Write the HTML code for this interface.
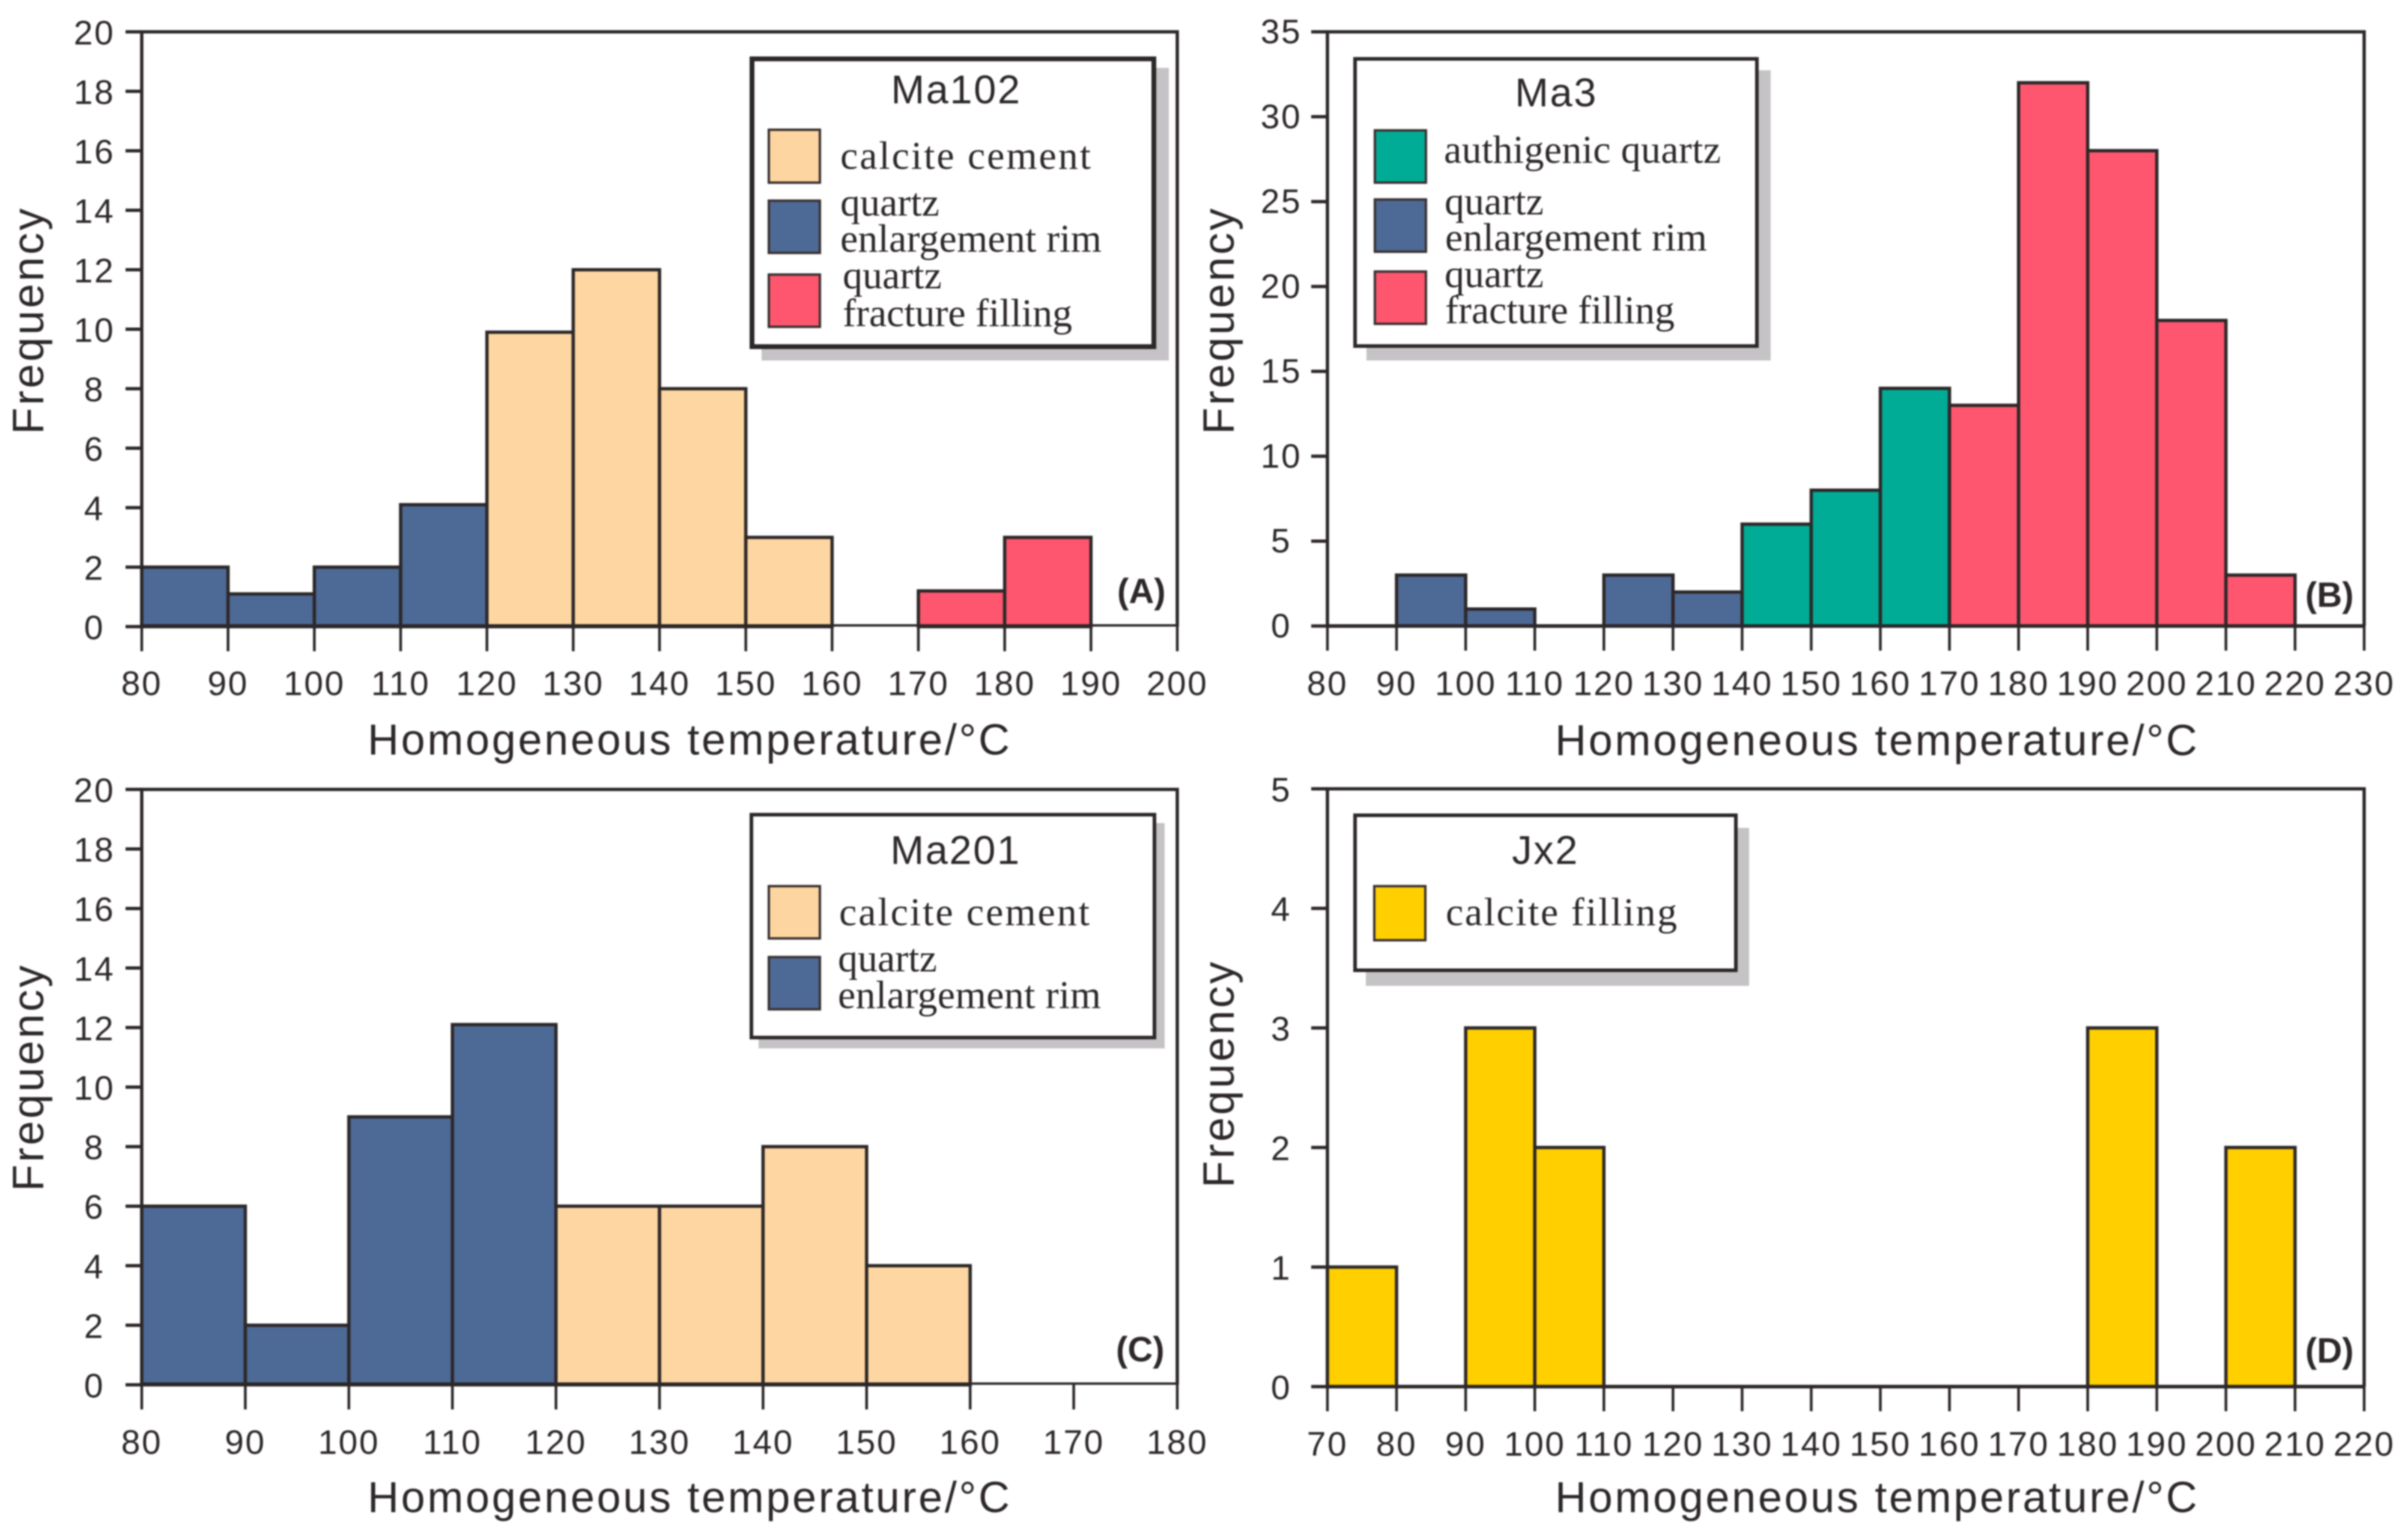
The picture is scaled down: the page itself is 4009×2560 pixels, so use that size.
<!DOCTYPE html>
<html lang="en">
<head>
<meta charset="utf-8">
<title>Homogeneous temperature histograms</title>
<style>
html,body{margin:0;padding:0;background:#fff;width:4009px;height:2560px;overflow:hidden}
svg{display:block;filter:blur(1.4px)}
.sans{font-family:"Liberation Sans",Arial,sans-serif;fill:#2c2728}
.tick-text{letter-spacing:2.5px}
.serif{font-family:"Liberation Serif","Times New Roman",serif;fill:#2c2728;font-size:66px}
.title{font-family:"Liberation Sans",Arial,sans-serif;fill:#2c2728;font-size:67px;text-anchor:middle;letter-spacing:2.5px}
.shadow{fill:#c5c3c5}
.box{fill:#fff;stroke:#2c2728}
.sw{stroke:#3a3030;stroke-width:4}
</style>
</head>
<body>
<svg id="figure" width="4009" height="2560" viewBox="0 0 4009 2560" xmlns="http://www.w3.org/2000/svg">
  <rect width="4009" height="2560" fill="#fff"/>
  <g id="panels"></g>

  <g>
    <rect class="shadow" x="1268" y="113" width="678" height="487"/>
    <rect class="box" x="1252" y="98" width="669" height="479" stroke-width="8"/>
    <text class="title" x="1592" y="172">Ma102</text>
    <rect class="sw" x="1280" y="216" width="85" height="88" fill="#fdd5a0"/>
    <text class="serif" x="1399" y="281" textLength="417">calcite cement</text>
    <rect class="sw" x="1280" y="334" width="85" height="87" fill="#4d6995"/>
    <text class="serif" x="1399" y="359">quartz</text>
    <text class="serif" x="1399" y="419" textLength="435">enlargement rim</text>
    <rect class="sw" x="1280" y="457" width="85" height="87" fill="#fe566f"/>
    <text class="serif" x="1403" y="480">quartz</text>
    <text class="serif" x="1403" y="543" textLength="382">fracture filling</text>
  </g>

  <g>
    <rect class="shadow" x="2275" y="117" width="673" height="483"/>
    <rect class="box" x="2256" y="98" width="669" height="478" stroke-width="6"/>
    <text class="title" x="2591" y="177">Ma3</text>
    <rect class="sw" x="2289" y="217" width="85" height="87" fill="#00ac96"/>
    <text class="serif" x="2404" y="271" textLength="461">authigenic quartz</text>
    <rect class="sw" x="2289" y="332" width="85" height="87" fill="#4d6995"/>
    <text class="serif" x="2405" y="357">quartz</text>
    <text class="serif" x="2406" y="417" textLength="436">enlargement rim</text>
    <rect class="sw" x="2289" y="452" width="85" height="87" fill="#fe566f"/>
    <text class="serif" x="2405" y="478">quartz</text>
    <text class="serif" x="2406" y="538" textLength="382">fracture filling</text>
  </g>

  <g>
    <rect class="shadow" x="1263" y="1370" width="676" height="375"/>
    <rect class="box" x="1251" y="1356" width="671" height="371" stroke-width="6"/>
    <text class="title" x="1591" y="1438">Ma201</text>
    <rect class="sw" x="1280" y="1475" width="85" height="87" fill="#fdd5a0"/>
    <text class="serif" x="1397" y="1540" textLength="417">calcite cement</text>
    <rect class="sw" x="1280" y="1593" width="85" height="87" fill="#4d6995"/>
    <text class="serif" x="1395" y="1617">quartz</text>
    <text class="serif" x="1395" y="1678" textLength="438">enlargement rim</text>
  </g>

  <g>
    <rect class="shadow" x="2274" y="1378" width="638" height="263"/>
    <rect class="box" x="2256" y="1357" width="634" height="258" stroke-width="6"/>
    <text class="title" x="2573" y="1438">Jx2</text>
    <rect class="sw" x="2288" y="1475" width="85" height="90" fill="#ffcf00"/>
    <text class="serif" x="2407" y="1540" textLength="385">calcite filling</text>
  </g>
</svg>

<script>
// Panel A (Ma102)
const aBins = [80, 90, 100, 110, 120, 130, 140, 150, 170, 180];
const aValues = [2, 1.1, 2, 4.1, 9.9, 12, 8, 3, 1.2, 3];
const aKinds = ['rim', 'rim', 'rim', 'rim', 'calcite', 'calcite', 'calcite', 'calcite', 'fracture', 'fracture'];
const aXTicks = [80, 90, 100, 110, 120, 130, 140, 150, 160, 170, 180, 190, 200];
const aYTicks = [0, 2, 4, 6, 8, 10, 12, 14, 16, 18, 20];

// Panel B (Ma3)
const bBins = [90, 100, 120, 130, 140, 150, 160, 170, 180, 190, 200, 210];
const bValues = [3, 1, 3, 2, 6, 8, 14, 13, 32, 28, 18, 3];
const bKinds = ['rim', 'rim', 'rim', 'rim', 'authigenic', 'authigenic', 'authigenic', 'fracture', 'fracture', 'fracture', 'fracture', 'fracture'];
const bXTicks = [80, 90, 100, 110, 120, 130, 140, 150, 160, 170, 180, 190, 200, 210, 220, 230];
const bYTicks = [0, 5, 10, 15, 20, 25, 30, 35];

// Panel C (Ma201)
const cBins = [80, 90, 100, 110, 120, 130, 140, 150];
const cValues = [6, 2, 9, 12.1, 6, 6, 8, 4];
const cKinds = ['rim', 'rim', 'rim', 'rim', 'calcite', 'calcite', 'calcite', 'calcite'];
const cXTicks = [80, 90, 100, 110, 120, 130, 140, 150, 160, 170, 180];
const cYTicks = [0, 2, 4, 6, 8, 10, 12, 14, 16, 18, 20];

// Panel D (Jx2)
const dBins = [70, 90, 100, 180, 200];
const dValues = [1, 3, 2, 3, 2];
const dKinds = ['filling', 'filling', 'filling', 'filling', 'filling'];
const dXTicks = [70, 80, 90, 100, 110, 120, 130, 140, 150, 160, 170, 180, 190, 200, 210, 220];
const dYTicks = [0, 1, 2, 3, 4, 5];

const binWidth = 10;
const kindColors = {rim: '#4d6995', calcite: '#fed6a1', fracture: '#fe566f', authigenic: '#00ac96', filling: '#ffcf00'};
const LINE = '#2c2728';
const NS = 'http://www.w3.org/2000/svg';
const root = document.getElementById('panels');

function shape(parent, tag, attrs) {
  const el = document.createElementNS(NS, tag);
  for (const k in attrs) el.setAttribute(k, attrs[k]);
  parent.appendChild(el);
  return el;
}

function drawPanel(p) {
  const g = shape(root, 'g', {});
  
  
  const xMin = p.xTicks[0], xMax = p.xTicks[p.xTicks.length - 1];
  const yMin = p.yTicks[0], yMax = p.yTicks[p.yTicks.length - 1];
  const xScale = v => p.left + (v - xMin) / (xMax - xMin) * (p.right - p.left);
  const yScale = v => p.bottom - (v - yMin) / (yMax - yMin) * (p.bottom - p.top);

  // frame
  const frame = shape(g, 'path', {
    d: 'M' + p.left + ' ' + p.bottom + 'V' + p.top + 'H' + p.right + 'V' + p.bottom,
    fill: 'none', stroke: LINE, 'stroke-width': 5.5
  });
  
  

  // bars
  p.bins.forEach((start, i) => {
    const x0 = xScale(start), x1 = xScale(start + binWidth), y = yScale(p.values[i]);
    const bar = shape(g, 'rect', {
      x: x0, y: y, width: x1 - x0, height: yScale(0) - y,
      fill: kindColors[p.kinds[i]], stroke: LINE, 'stroke-width': 5.5
    });
    
    
  });

  // baseline
  const base = shape(g, 'line', {x1: p.left, x2: p.right, y1: yScale(0) - p.baseLift, y2: yScale(0) - p.baseLift, stroke: LINE, 'stroke-width': p.baseWidth});
  
  

  // x ticks and labels
  p.xTicks.forEach(t => {
    const x = xScale(t);
    const tick = shape(g, 'line', {x1: x, x2: x, y1: yScale(0), y2: yScale(0) + 41, stroke: LINE, 'stroke-width': 4.5});
    
    
    const label = shape(g, 'text', {x: x, y: p.xLabelY, class: 'sans tick-text', 'font-size': 57, 'text-anchor': 'middle'});
    label.textContent = t;
    
    
  });

  // y ticks and labels
  p.yTicks.forEach(t => {
    const y = yScale(t);
    const tick = shape(g, 'line', {x1: p.left - 27, x2: p.left, y1: y, y2: y, stroke: LINE, 'stroke-width': 5.5});
    
    
    const label = shape(g, 'text', {x: p.yLabelX, y: y + p.yLabelDy, class: 'sans tick-text', 'font-size': 57, 'text-anchor': 'middle'});
    label.textContent = t;
    
    
  });

  // axis titles
  const xt = shape(g, 'text', {x: p.xTitleX, y: p.xTitleY, class: 'sans', 'font-size': 72, textLength: 1069, lengthAdjust: 'spacing'});
  xt.textContent = 'Homogeneous temperature/\u00B0C';
  
  

  const yt = shape(g, 'text', {
    transform: 'translate(' + p.yTitleX + ',' + p.yTitleY + ') rotate(-90)',
    class: 'sans', 'font-size': 73, textLength: 376, lengthAdjust: 'spacing'
  });
  yt.textContent = 'Frequency';
  
  

  // panel letter
  const tag = shape(g, 'text', {x: p.tagX, y: p.tagY, class: 'sans', 'font-size': 58, 'font-weight': 'bold'});
  tag.textContent = p.tag;
  
  
}

drawPanel({name: 'panel-a', bins: aBins, values: aValues, kinds: aKinds, xTicks: aXTicks, yTicks: aYTicks,
  left: 236, right: 1960, top: 53, bottom: 1043, xLabelY: 1157, yLabelX: 157, yLabelDy: 21, baseWidth: 4, baseLift: 2,
  xTitleX: 612, xTitleY: 1256, yTitleX: 72, yTitleY: 723, tag: '(A)', tagX: 1860, tagY: 1004});
drawPanel({name: 'panel-b', bins: bBins, values: bValues, kinds: bKinds, xTicks: bXTicks, yTicks: bYTicks,
  left: 2210, right: 3936, top: 53, bottom: 1042, xLabelY: 1157, yLabelX: 2133, yLabelDy: 19, baseWidth: 6, baseLift: 0,
  xTitleX: 2589, xTitleY: 1257, yTitleX: 2054, yTitleY: 723, tag: '(B)', tagX: 3838, tagY: 1010});
drawPanel({name: 'panel-c', bins: cBins, values: cValues, kinds: cKinds, xTicks: cXTicks, yTicks: cYTicks,
  left: 236, right: 1960, top: 1314, bottom: 2305, xLabelY: 2420, yLabelX: 157, yLabelDy: 21, baseWidth: 4, baseLift: 2,
  xTitleX: 612, xTitleY: 2517, yTitleX: 72, yTitleY: 1983, tag: '(C)', tagX: 1858, tagY: 2266});
drawPanel({name: 'panel-d', bins: dBins, values: dValues, kinds: dKinds, xTicks: dXTicks, yTicks: dYTicks,
  left: 2210, right: 3936, top: 1313, bottom: 2308, xLabelY: 2423, yLabelX: 2133, yLabelDy: 21, baseWidth: 6, baseLift: 0,
  xTitleX: 2589, xTitleY: 2517, yTitleX: 2054, yTitleY: 1977, tag: '(D)', tagX: 3838, tagY: 2268});
</script>
</body>
</html>
